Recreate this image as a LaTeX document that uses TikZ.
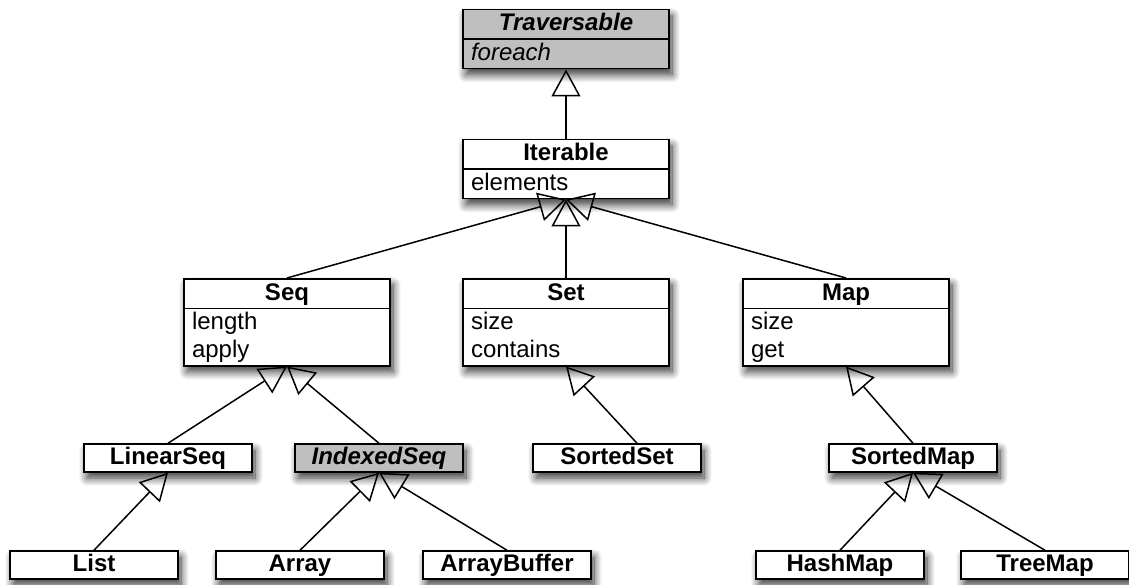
\documentclass[tikz,border=0pt]{standalone}
\usepackage{fontspec}
\setmainfont{Liberation Sans}
\usepackage{tikz}
\usetikzlibrary{shapes.multipart,arrows.meta,shadows.blur,calc}
\usepackage{xcolor}

\definecolor{absgray}{gray}{0.75}
\newcommand{\cstrut}{\rule[-7.5pt]{0pt}{28pt}}

\begin{document}
\begin{tikzpicture}[
    x=1pt, y=-1pt,
    shade/.style={blur shadow={shadow xshift=3pt, shadow yshift=-6pt, shadow blur radius=8pt, shadow blur steps=12, shadow opacity=80}},
    cls/.style={rectangle split, rectangle split parts=2, draw, line width=1.5pt, fill=white, text width=190pt, inner xsep=8pt, inner ysep=0pt, align=left, anchor=north, font=\fontsize{24}{28}\selectfont, shade},
    leaf/.style={rectangle, draw, line width=1.5pt, fill=white, minimum width=168pt, minimum height=28pt, inner sep=0pt, text height=20.5pt, text depth=7.5pt, font=\fontsize{24}{28}\selectfont\bfseries, shade},
    abstract/.style={fill=absgray},
    arrow/.style={-{Triangle[open, length=27pt, width=29pt]}, line width=1.5pt}
]
\useasboundingbox (0,0) rectangle (1129,585);

% top of the hierarchy
\node[cls, abstract] (trav) at (566,9) {\centering\bfseries\itshape Traversable\cstrut\par\nodepart{second}\itshape foreach\cstrut};
\node[cls] (iter) at (566,139) {\centering\bfseries Iterable\cstrut\par\nodepart{second}elements\cstrut};

% collections
\node[cls] (seq) at (287,278) {\centering\bfseries Seq\cstrut\par\nodepart{second}length\cstrut\\apply\cstrut};
\node[cls] (set) at (566,278) {\centering\bfseries Set\cstrut\par\nodepart{second}size\cstrut\\contains\cstrut};
\node[cls] (map) at (846,278) {\centering\bfseries Map\cstrut\par\nodepart{second}size\cstrut\\get\cstrut};

\node[leaf] (linseq) at (168,458) {LinearSeq};
\node[leaf, abstract] (idxseq) at (379,458) {\itshape IndexedSeq};
\node[leaf] (sortset) at (617,458) {SortedSet};
\node[leaf] (sortmap) at (913,458) {SortedMap};

\node[leaf] (list) at (94,565) {List};
\node[leaf] (array) at (300,565) {Array};
\node[leaf] (arrbuf) at (507,565) {ArrayBuffer};
\node[leaf] (hashmap) at (840,565) {HashMap};
\node[leaf] (treemap) at (1045,565) {TreeMap};

\draw[arrow] (iter) -- (trav);
\draw[arrow] (seq.north) -- (iter.south);
\draw[arrow] (set.north) -- (iter.south);
\draw[arrow] (map.north) -- (iter.south);
\draw[arrow] (linseq.north) -- (seq.south);
\draw[arrow] (idxseq.north) -- (seq.south);
\draw[arrow] ($(sortset.north)+(20,0)$) -- (set.south);
\draw[arrow] (sortmap.north) -- (map.south);
\draw[arrow] (list.north) -- (linseq.south);
\draw[arrow] (array.north) -- (idxseq.south);
\draw[arrow] (arrbuf.north) -- (idxseq.south);
\draw[arrow] (hashmap.north) -- (sortmap.south);
\draw[arrow] (treemap.north) -- (sortmap.south);

\end{tikzpicture}
\end{document}
